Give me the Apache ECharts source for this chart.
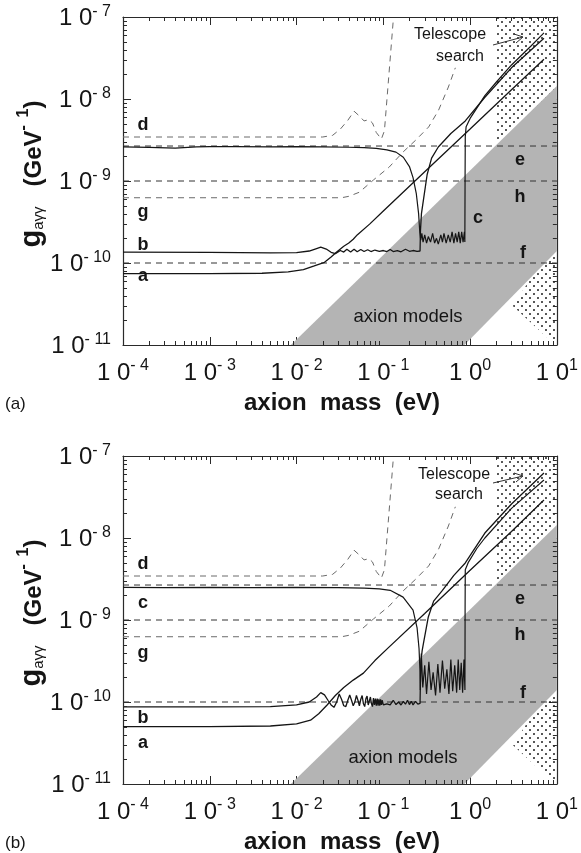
<!DOCTYPE html>
<html><head><meta charset="utf-8">
<script src="https://cdn.jsdelivr.net/npm/echarts@6/dist/echarts.min.js"></script>
<style>html,body{margin:0;padding:0;background:#fff}#c{width:581px;height:853px}</style>
</head><body><div id="c"></div>
<script>
// ---------- data (mass in eV, coupling in GeV^-1) ----------
const xRange = [1e-4, 10];
const yRange = [1e-11, 1e-7];

// shared dashed limits (both panels)
const dCurve = [[1e-4,3.44e-9],[0.02,3.44e-9],[0.026,3.6e-9],[0.032,4.3e-9],[0.039,5.5e-9],[0.046,7.1e-9],[0.053,6.2e-9],[0.06,5.4e-9],[0.068,5.6e-9],[0.075,5.1e-9],[0.083,3.9e-9],[0.095,3.25e-9],[0.103,4.1e-9],[0.13,9e-8]];
const gCurve = [[1e-4,6.25e-10],[0.033,6.25e-10],[0.04,6.5e-10],[0.053,7.3e-10],[0.077,1.03e-9],[0.117,1.48e-9],[0.169,2.26e-9],[0.237,3.16e-9],[0.333,4.56e-9],[0.433,7.3e-9],[0.562,1.4e-8],[0.676,2.4e-8]];
const eLevel = [[1e-4,2.67e-9],[10,2.67e-9]];
const hLevel = [[1e-4,1e-9],[10,1e-9]];
const fLevel = [[1e-4,1e-10],[10,1e-10]];

// shaded regions
const axionBand = [[0.0086,1e-11],[10,1.44e-8],[10,1.4e-10],[0.86,1e-11]];
const telescopeUpper = [[2.0,1e-7],[10,1e-7],[10,1e-8],[2.0,2.0e-9]];
const telescopeLower = [[3.1,3e-11],[10,2e-10],[10,1e-11],[9.6,1e-11]];

// panel (a) solid curves
const aCurveA = [[1e-4,7.4e-11],[1e-3,7.4e-11],[4e-3,7.5e-11],[8e-3,7.8e-11],[0.012,8.3e-11],[0.016,9.2e-11],[0.021,1.02e-10],[0.025,1.18e-10],[0.029,1.36e-10],[0.035,1.6e-10],[0.04,1.75e-10],[0.045,1.95e-10],[0.05,2.2e-10],[0.07,3.0e-10],[0.1,4.3e-10],[0.3,1.3e-9],[1,4.3e-9],[3,1.3e-8],[7.1,3.05e-8]];
const bCurveA = [[1e-4,1.36e-10],[1e-3,1.35e-10],[5e-3,1.33e-10],[0.01,1.34e-10],[0.014,1.4e-10],[0.017,1.5e-10],[0.019,1.56e-10],[0.022,1.48e-10],[0.025,1.35e-10],[0.028,1.3e-10],[0.032,1.42e-10],[0.035,1.36e-10],[0.038,1.47e-10],[0.042,1.36e-10],[0.046,1.47e-10],[0.05,1.37e-10],[0.055,1.46e-10],[0.06,1.38e-10],[0.066,1.45e-10],[0.072,1.38e-10],[0.08,1.44e-10],[0.09,1.39e-10],[0.1,1.42e-10],[0.11,1.38e-10],[0.12,1.46e-10],[0.13,1.38e-10],[0.145,1.42e-10],[0.16,1.37e-10],[0.18,1.47e-10],[0.2,1.39e-10],[0.22,1.42e-10],[0.245,1.39e-10],[0.265,1.4e-10],[0.268,2.5e-10],[0.275,4e-10],[0.29,5.9e-10],[0.32,1.2e-9],[0.36,1.9e-9],[0.43,2.6e-9],[0.6,3.8e-9],[0.88,5.4e-9],[1.48,1.05e-8],[3,2.4e-8],[7.1,5.5e-8]];
const cCurveA = [[1e-4,2.6e-9],[2e-4,2.57e-9],[4e-4,2.52e-9],[7e-4,2.6e-9],[1e-3,2.63e-9],[2e-3,2.62e-9],[5e-3,2.6e-9],[0.01,2.62e-9],[0.02,2.6e-9],[0.04,2.58e-9],[0.06,2.55e-9],[0.083,2.5e-9],[0.11,2.4e-9],[0.14,2.25e-9],[0.17,1.95e-9],[0.2,1.5e-9],[0.22,1.1e-9],[0.24,7e-10],[0.255,4e-10],[0.263,2.4e-10],[0.27,1.9e-10],[0.278,2.3e-10],[0.287,1.8e-10],[0.3,2.2e-10],[0.315,1.75e-10],[0.33,2.1e-10],[0.35,1.8e-10],[0.37,2.3e-10],[0.39,1.75e-10],[0.41,2.0e-10],[0.43,1.7e-10],[0.46,2.2e-10],[0.48,1.8e-10],[0.5,2.3e-10],[0.53,1.75e-10],[0.56,2.2e-10],[0.59,1.8e-10],[0.62,2.4e-10],[0.65,1.75e-10],[0.68,2.3e-10],[0.71,1.8e-10],[0.74,2.4e-10],[0.77,1.75e-10],[0.8,2.4e-10],[0.83,1.8e-10],[0.86,2.4e-10],[0.87,1.8e-10],[0.875,1e-9],[0.88,3.5e-9],[0.9,4.6e-9],[1.0,5.8e-9],[1.2,7.8e-9],[1.48,1.1e-8],[2,1.6e-8],[3,2.6e-8],[5,4.4e-8],[7.1,6.4e-8]];

// panel (b) solid curves
const aCurveB = [[1e-4,5e-11],[1e-3,5e-11],[5e-3,5.1e-11],[0.01,5.4e-11],[0.0145,6e-11],[0.018,7.2e-11],[0.0225,9.2e-11],[0.028,1.2e-10],[0.035,1.5e-10],[0.045,1.85e-10],[0.059,2.25e-10],[0.08,3.2e-10],[0.117,4.7e-10],[0.3,1.2e-9],[1,4.05e-9],[3,1.2e-8],[7.1,2.9e-8]];
const bCurveB = [[1e-4,8.7e-11],[1e-3,8.7e-11],[5e-3,8.8e-11],[0.01,9.2e-11],[0.014,1.0e-10],[0.017,1.15e-10],[0.019,1.3e-10],[0.021,1.22e-10],[0.023,1.05e-10],[0.025,9.2e-11],[0.027,8.6e-11],[0.029,1.0e-10],[0.031,1.25e-10],[0.033,1.08e-10],[0.035,9.0e-11],[0.037,8.8e-11],[0.039,1.05e-10],[0.041,1.22e-10],[0.043,1.05e-10],[0.045,9.0e-11],[0.047,1.0e-10],[0.049,1.2e-10],[0.051,1.05e-10],[0.053,9.0e-11],[0.055,1.08e-10],[0.057,1.2e-10],[0.059,9.5e-11],[0.061,8.8e-11],[0.063,1.1e-10],[0.065,1.18e-10],[0.067,9.2e-11],[0.069,9.0e-11],[0.071,1.15e-10],[0.073,9.5e-11],[0.075,8.8e-11],[0.077,1.12e-10],[0.079,9.2e-11],[0.081,1.1e-10],[0.083,9.0e-11],[0.085,1.1e-10],[0.087,9.0e-11],[0.089,1.08e-10],[0.091,9.0e-11],[0.093,1.08e-10],[0.095,9.2e-11],[0.097,1.05e-10],[0.1,9.2e-11],[0.11,9.5e-11],[0.12,9.2e-11],[0.13,1.05e-10],[0.14,9.3e-11],[0.15,1.0e-10],[0.16,9.2e-11],[0.17,1.02e-10],[0.18,9.4e-11],[0.19,1.05e-10],[0.2,9.3e-11],[0.21,1.02e-10],[0.22,9.2e-11],[0.235,1.02e-10],[0.25,9.4e-11],[0.265,9.6e-11],[0.268,2e-10],[0.272,3.2e-10],[0.28,4.2e-10],[0.29,5.2e-10],[0.33,1.09e-9],[0.38,1.7e-9],[0.48,2.3e-9],[0.65,3.5e-9],[0.88,4.96e-9],[1.48,1.15e-8],[3,2.6e-8],[7.1,6.2e-8]];
const cCurveB = [[1e-4,2.5e-9],[3e-4,2.48e-9],[1e-3,2.5e-9],[3e-3,2.48e-9],[0.01,2.5e-9],[0.03,2.48e-9],[0.06,2.45e-9],[0.09,2.4e-9],[0.12,2.3e-9],[0.169,1.9e-9],[0.22,1.32e-9],[0.245,8e-10],[0.258,4.5e-10],[0.264,2.5e-10],[0.267,1.4e-10],[0.274,3.9e-10],[0.285,1.5e-10],[0.3,2.8e-10],[0.315,1.25e-10],[0.335,3.1e-10],[0.355,1.4e-10],[0.375,2.3e-10],[0.4,1.2e-10],[0.425,2.9e-10],[0.45,1.3e-10],[0.48,3.2e-10],[0.51,1.45e-10],[0.54,2.5e-10],[0.57,1.25e-10],[0.6,3.3e-10],[0.63,1.35e-10],[0.665,2.8e-10],[0.7,1.3e-10],[0.73,3.3e-10],[0.76,1.4e-10],[0.79,3.0e-10],[0.82,1.3e-10],[0.85,3.3e-10],[0.872,1.4e-10],[0.876,1.5e-9],[0.88,4.1e-9],[0.95,5e-9],[1.2,7.5e-9],[1.48,1.0e-8],[3,2.3e-8],[7.1,5.1e-8]];

// ---------- rendering ----------
const F = "'Liberation Sans', Arial, Helvetica, sans-serif";
const INK = '#151515';
const chart = echarts.init(document.getElementById('c'), null, {renderer:'canvas'});

function dotCanvas(){
  const c = document.createElement('canvas'); c.width = 8; c.height = 8;
  const g = c.getContext('2d'); g.fillStyle = '#111';
  g.beginPath(); g.arc(2, 2, 0.95, 0, 2*Math.PI); g.fill();
  g.beginPath(); g.arc(6, 6, 0.95, 0, 2*Math.PI); g.fill();
  return c;
}
const DOTS = {image: dotCanvas(), repeat: 'repeat'};

function supLabel(v){
  const e = Math.round(Math.log10(v));
  const s = e < 0 ? '- ' + (-e) : '' + e;
  return '{m|1 0}{s|' + s + '}';
}
const RICH = {
  m:{fontSize:24, fontFamily:F, color:INK, lineHeight:27, verticalAlign:'bottom'},
  s:{fontSize:16, fontFamily:F, color:INK, lineHeight:27, verticalAlign:'top', padding:[0,0,8,0]}
};

const grids = [{left:123, right:18, top:17, height:328}, {left:123, right:18, top:456, height:328}];
const xAxes = [], yAxes = [], series = [];
const axisLine = {show:true, onZero:false, lineStyle:{color:'#2a2a2a', width:1.2}};
const axisTick = {show:true, inside:true, length:8, lineStyle:{color:'#2a2a2a', width:1}};

[0,1].forEach(i => {
  xAxes.push({type:'log', logBase:10, gridIndex:i, position:'bottom', min:xRange[0], max:xRange[1], splitNumber:5,
    axisLine, axisTick, splitLine:{show:false},
    axisLabel:{show:true, margin:13, formatter:supLabel, rich:RICH}});
  xAxes.push({type:'log', logBase:10, gridIndex:i, position:'top', min:xRange[0], max:xRange[1], splitNumber:5,
    axisLine, axisTick, splitLine:{show:false}, axisLabel:{show:false}});
  yAxes.push({type:'log', logBase:10, gridIndex:i, position:'left', min:yRange[0], max:yRange[1], splitNumber:4,
    axisLine, axisTick, splitLine:{show:false},
    axisLabel:{show:true, margin:12, formatter:supLabel, rich:RICH}});
  yAxes.push({type:'log', logBase:10, gridIndex:i, position:'right', min:yRange[0], max:yRange[1], splitNumber:4,
    axisLine, axisTick, splitLine:{show:false}, axisLabel:{show:false}});
});

function poly(pts, gi, fill, z){
  return {type:'custom', coordinateSystem:'cartesian2d', xAxisIndex:gi*2, yAxisIndex:gi*2, silent:true, z:z,
    data:[[1,1e-9]],
    renderItem:(p, api) => ({type:'polygon', shape:{points: pts.map(q => api.coord(q))}, style:{fill:fill}})};
}
function line(data, gi, dashed, color, w, z){
  return {type:'line', xAxisIndex:gi*2, yAxisIndex:gi*2, data:data, showSymbol:false, symbol:'none',
    silent:true, animation:false, z:z||5,
    lineStyle:{color:color, width:w, type: dashed ? [6,5] : 'solid'}};
}
// minor ticks (2..9 x 10^n) on all four frame sides
function minorTicks(gi){
  const items = [];
  for (let e = -4; e < 1; e++) for (let k = 2; k <= 9; k++) items.push([k*Math.pow(10,e), 1e-9, 0]);
  for (let e = -11; e < -7; e++) for (let k = 2; k <= 9; k++) items.push([1e-3, k*Math.pow(10,e), 1]);
  return {type:'custom', coordinateSystem:'cartesian2d', xAxisIndex:gi*2, yAxisIndex:gi*2, silent:true, z:8,
    data: items,
    renderItem:(p, api) => {
      const cs = p.coordSys; const L = 4;
      const pt = api.coord([api.value(0), api.value(1)]);
      const st = {stroke:'#2a2a2a', lineWidth:1};
      if (api.value(2) === 0) {
        const x = Math.round(pt[0]) + 0.5;
        return {type:'group', children:[
          {type:'line', shape:{x1:x, y1:cs.y+cs.height, x2:x, y2:cs.y+cs.height-L}, style:st},
          {type:'line', shape:{x1:x, y1:cs.y, x2:x, y2:cs.y+L}, style:st}]};
      } else {
        const y = Math.round(pt[1]) + 0.5;
        return {type:'group', children:[
          {type:'line', shape:{x1:cs.x, y1:y, x2:cs.x+L, y2:y}, style:st},
          {type:'line', shape:{x1:cs.x+cs.width, y1:y, x2:cs.x+cs.width-L, y2:y}, style:st}]};
      }
    }};
}

const panels = [
  {a:aCurveA, b:bCurveA, c:cCurveA},
  {a:aCurveB, b:bCurveB, c:cCurveB}
];
panels.forEach((P, gi) => {
  series.push(poly(telescopeUpper, gi, DOTS, 1));
  series.push(poly(telescopeLower, gi, DOTS, 1));
  series.push(poly(axionBand, gi, '#b4b4b4', 2));
  series.push(line(dCurve, gi, true, '#6a6a6a', 1));
  series.push(line(gCurve, gi, true, '#6a6a6a', 1));
  series.push(line(eLevel, gi, true, '#333', 1));
  series.push(line(hLevel, gi, true, '#333', 1));
  series.push(line(fLevel, gi, true, '#333', 1));
  series.push(line(P.a, gi, false, INK, 1.3, 6));
  series.push(line(P.b, gi, false, INK, 1.3, 6));
  series.push(line(P.c, gi, false, INK, 1.2, 6));
  series.push(minorTicks(gi));
});

// ---------- annotations ----------
function txt(x, y, t, size, bold, align){
  return {type:'text', x:x, y:y, z:20, silent:true, style:{text:t, fontSize:size, fontFamily:F,
    fontWeight: bold ? 'bold' : 'normal', fill:INK, align: align || 'center', verticalAlign:'middle'}};
}
function yTitle(cy){
  return {type:'text', x:31, y:cy, rotation:Math.PI/2, z:20, silent:true,
    style:{text:'{g|g}{sub|a\u03b3\u03b3}{t|   (GeV}{sup|-\u2009 1}{t|)}', align:'center', verticalAlign:'middle',
      rich:{
        g:{fontSize:29, fontWeight:'bold', fontFamily:F, fill:INK, color:INK, lineHeight:30, verticalAlign:'bottom'},
        sub:{fontSize:15, fontFamily:F, fill:INK, color:INK, lineHeight:30, verticalAlign:'bottom'},
        t:{fontSize:24, fontWeight:'bold', fontFamily:F, fill:INK, color:INK, lineHeight:30, verticalAlign:'bottom'},
        sup:{fontSize:16, fontWeight:'bold', fontFamily:F, fill:INK, color:INK, lineHeight:30, verticalAlign:'top'}
      }}};
}
function arrow(x1, y1, x2, y2){
  return [
    {type:'polyline', z:20, silent:true, shape:{points:[[x1,y1],[x2,y2]]}, style:{stroke:'#333', lineWidth:1, fill:null}},
    {type:'polyline', z:20, silent:true, shape:{points:[[x2-9,y2-3],[x2,y2],[x2-7,y2+6]]}, style:{stroke:'#333', lineWidth:1, fill:null}}
  ];
}
const graphics = [];
[[0,'(a)',[['d',143,125],['g',143,212],['b',143,245],['a',143,276],['e',520,160],['h',520,197],['c',478,218],['f',523,253]],[408,317],[450,35],[460,57]],
 [439,'(b)',[['d',143,564],['c',143,603],['g',143,653],['b',143,718],['a',143,743],['e',520,599],['h',520,635],['f',523,693]],[403,758],[454,475],[459,495]]
].forEach(([dy, tag, letters, am, tel, sea]) => {
  letters.forEach(([t,x,y]) => graphics.push(txt(x, y, t, 18, true)));
  graphics.push(txt(am[0], am[1], 'axion models', 18.5, false));
  graphics.push(txt(tel[0], tel[1], 'Telescope', 16, false));
  graphics.push(txt(sea[0], sea[1], 'search', 16, false));
  graphics.push(...arrow(493, 45+dy - (dy?1:0), 523, 37+dy));
  graphics.push(txt(5, 404+dy, tag, 17, false, 'left'));
  graphics.push(txt(342, 403+dy, 'axion  mass  (eV)', 24, true));
  graphics.push(yTitle(174+dy));
});

chart.setOption({
  animation:false,
  backgroundColor:'#fff',
  textStyle:{fontFamily:F},
  grid: grids,
  xAxis: xAxes,
  yAxis: yAxes,
  series: series,
  graphic: graphics
});
</script></body></html>
